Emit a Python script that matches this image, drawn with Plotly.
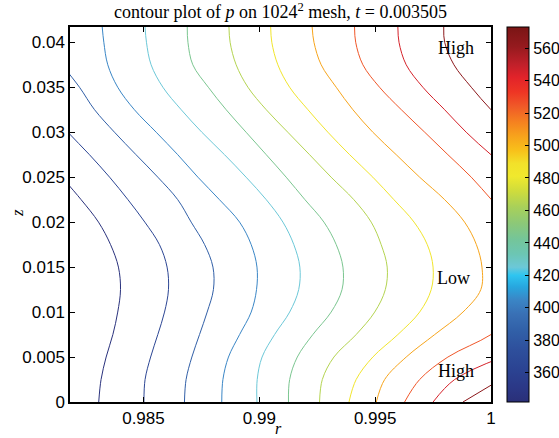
import plotly.graph_objects as go
from plotly.colors import sample_colorscale

# ---- data ----
z_samples = [0.0, 0.0025, 0.005, 0.0075, 0.01, 0.0125, 0.015, 0.0175, 0.02,
             0.0225, 0.025, 0.0275, 0.03, 0.0325, 0.035, 0.0375, 0.04, 0.0417]

levels = [345, 365, 385, 405, 425, 445, 465, 485, 505, 525, 545, 565]

r_p345 = [0.98307, 0.98317, 0.98339, 0.98368, 0.98389, 0.98401, 0.98392, 0.98358, 0.98306,
          0.98231, 0.98148, None, None, None, None, None, None, None]
r_p365 = [0.98502, 0.98507, 0.98531, 0.98562, 0.98591, 0.98608, 0.98602, 0.98569, 0.98506,
          0.98433, 0.98354, 0.98267, 0.98174, 0.98087, None, None, None, None]
r_p385 = [0.98677, 0.98684, 0.98709, 0.98742, 0.98775, 0.98802, 0.98800, 0.98764, 0.98706,
          0.98648, 0.98562, 0.98468, 0.98375, 0.98289, 0.98224, 0.98148, None, None]
r_p405 = [0.98838, 0.98843, 0.98867, 0.98915, 0.98965, 0.98988, 0.98990, 0.98965, 0.98915,
          0.98828, 0.98735, 0.98648, 0.98555, 0.98461, 0.98389, 0.98346, 0.98329, 0.98322]
r_p425 = [0.98990, 0.98991, 0.99012, 0.99066, 0.99131, 0.99170, 0.99175, 0.99149, 0.99102,
          0.99030, 0.98943, 0.98850, 0.98752, 0.98663, 0.98584, 0.98533, 0.98513, 0.98507]
r_p445 = [0.99126, 0.99131, 0.99164, 0.99231, 0.99310, 0.99357, 0.99361, 0.99332, 0.99279,
          0.99197, 0.99116, 0.99030, 0.98943, 0.98857, 0.98780, 0.98713, 0.98692, 0.98689]
r_p465 = [0.99260, 0.99272, 0.99322, 0.99418, 0.99498, 0.99544, 0.99552, 0.99526, 0.99483,
          0.99408, 0.99310, 0.99217, 0.99123, 0.99030, 0.98951, 0.98900, 0.98874, 0.98869]
r_p485 = [0.99387, 0.99418, 0.99490, 0.99598, 0.99692, 0.99742, 0.99750, 0.99725, 0.99668,
          0.99581, 0.99490, 0.99390, 0.99296, 0.99210, 0.99131, 0.99080, 0.99054, 0.99049]
r_p505 = [0.99505, 0.99541, 0.99634, 0.99757, 0.99879, 0.99956, 0.99961, 0.99937, 0.99886,
          0.99800, 0.99692, 0.99591, 0.99490, 0.99404, 0.99332, 0.99267, 0.99236, 0.99228]
r_p525 = [0.99627, 0.99692, 0.99814, 1.00000, 1.00120, None, None, None, 1.00090,
          1.00002, 0.99915, 0.99814, 0.99714, 0.99613, 0.99519, 0.99447, 0.99416, 0.99411]
r_p545 = [0.99750, 0.99843, 1.00050, None, None, None, None, None, None,
          None, 1.00120, 1.00000, 0.99893, 0.99800, 0.99706, 0.99634, 0.99603, 0.99598]
r_p565 = [0.99879, 1.00041, None, None, None, None, None, None, None,
          None, None, None, 1.00100, 1.00000, 0.99915, 0.99840, 0.99800, 0.99796]

r_lines = [r_p345, r_p365, r_p385, r_p405, r_p425, r_p445,
           r_p465, r_p485, r_p505, r_p525, r_p545, r_p565]

c_min, c_max = 342, 573
# colormap anchors (value, colour)
cmap_values = [342, 351, 362, 374, 386, 396, 405, 413, 420, 425, 433, 442, 452, 462,
               472, 481, 489, 497, 506, 515, 524, 533, 542, 550, 561, 573]
cmap_colors = ['#2a2f78', '#2b3887', '#2b4392', '#2e4f9c', '#3160a8', '#3970b5', '#3a86c6',
               '#27a7df', '#2ec5f0', '#6cc8d8', '#6cc6b4', '#74c59a', '#8cc878', '#a8d05a',
               '#cfdc3c', '#f0e92d', '#f2e12a', '#f8c01a', '#f7a21c', '#f57f20', '#f05a28',
               '#ee3524', '#e2232a', '#c0202a', '#951a1e', '#7a1515']

x_tickvals = [0.985, 0.99, 0.995, 1.0]
x_ticktext = ['0.985', '0.99', '0.995', '1']
y_tickvals = [0, 0.005, 0.01, 0.015, 0.02, 0.025, 0.03, 0.035, 0.04]
y_ticktext = ['0', '0.005', '0.01', '0.015', '0.02', '0.025', '0.03', '0.035', '0.04']
cbar_ticks = [360, 380, 400, 420, 440, 460, 480, 500, 520, 540, 560]

# ---- figure ----
colorscale = [[(v - c_min) / (c_max - c_min), c] for v, c in zip(cmap_values, cmap_colors)]

SANS = 'Liberation Sans'
SERIF = 'Liberation Serif'

W, H = 559, 438
ML, MT = 70, 27
PW, PH = 421, 375

fig = go.Figure()
for lev, rs in zip(levels, r_lines):
    col = sample_colorscale(colorscale, [(lev - c_min) / (c_max - c_min)])[0]
    fig.add_trace(go.Scatter(x=rs, y=z_samples, mode='lines',
                             line=dict(color=col, width=1, shape='spline', smoothing=1.0),
                             showlegend=False, hoverinfo='skip'))

fig.add_trace(go.Scatter(
    x=[None], y=[None], mode='markers', showlegend=False,
    marker=dict(color=[c_min], cmin=c_min, cmax=c_max, colorscale=colorscale,
                showscale=True,
                colorbar=dict(x=1 + 16 / PW, xanchor='left', xpad=0, y=0.5, yanchor='middle',
                              len=1, lenmode='fraction', ypad=0,
                              thickness=22, thicknessmode='pixels',
                              outlinecolor='black', outlinewidth=1,
                              tickvals=cbar_ticks, ticks='inside', ticklen=4,
                              tickcolor='black',
                              tickfont=dict(family=SANS, size=16, color='black'))))
)

fig.update_layout(
    width=W, height=H,
    margin=dict(l=ML, r=W - ML - PW, t=MT, b=H - MT - PH, autoexpand=False),
    paper_bgcolor='white', plot_bgcolor='white',
    title=dict(text='contour plot of <i>p</i> on 1024<sup>2</sup> mesh, <i>t</i> = 0.003505',
               x=0.5, xref='paper', xanchor='center', y=1 - 12 / H,
               yanchor='middle',
               font=dict(family=SERIF, size=18, color='black')),
    xaxis=dict(range=[0.98183, 1.0], tickvals=x_tickvals, ticktext=x_ticktext,
               ticks='inside', ticklen=5, tickcolor='black', mirror='allticks',
               showline=True, linecolor='black', linewidth=1.5, showgrid=False, zeroline=False,
               tickfont=dict(family=SANS, size=17, color='black')),
    yaxis=dict(range=[0, 0.0417], tickvals=y_tickvals, ticktext=y_ticktext,
               ticks='inside', ticklen=5, tickcolor='black', mirror='allticks',
               showline=True, linecolor='black', linewidth=1.5, showgrid=False, zeroline=False,
               tickfont=dict(family=SANS, size=17, color='black')),
    annotations=[
        dict(text='<i>r</i>', x=(278 - 70) / PW, y=-26.5 / PH, xref='paper', yref='paper',
             xanchor='center', yanchor='middle',
             showarrow=False, font=dict(family=SERIF, size=16, color='black')),
        dict(text='<i>z</i>', x=-53 / PW, y=(402 - 213) / PH, xref='paper', yref='paper',
             xanchor='center', yanchor='middle',
             textangle=-90, showarrow=False, font=dict(family=SERIF, size=17, color='black')),
        dict(text='High', x=0.99849, y=0.03939, showarrow=False,
             xanchor='center', yanchor='middle',
             font=dict(family=SERIF, size=18, color='black')),
        dict(text='Low', x=0.99836, y=0.01383, showarrow=False,
             xanchor='center', yanchor='middle',
             font=dict(family=SERIF, size=18, color='black')),
        dict(text='High', x=0.99849, y=0.0035, showarrow=False,
             xanchor='center', yanchor='middle',
             font=dict(family=SERIF, size=18, color='black')),
    ],
)

# remove the browser's default 8px body margin so the figure sits at the page origin
fig.write_html('out.html', config={'displayModeBar': False},
               post_script="document.body.style.margin='0';")
